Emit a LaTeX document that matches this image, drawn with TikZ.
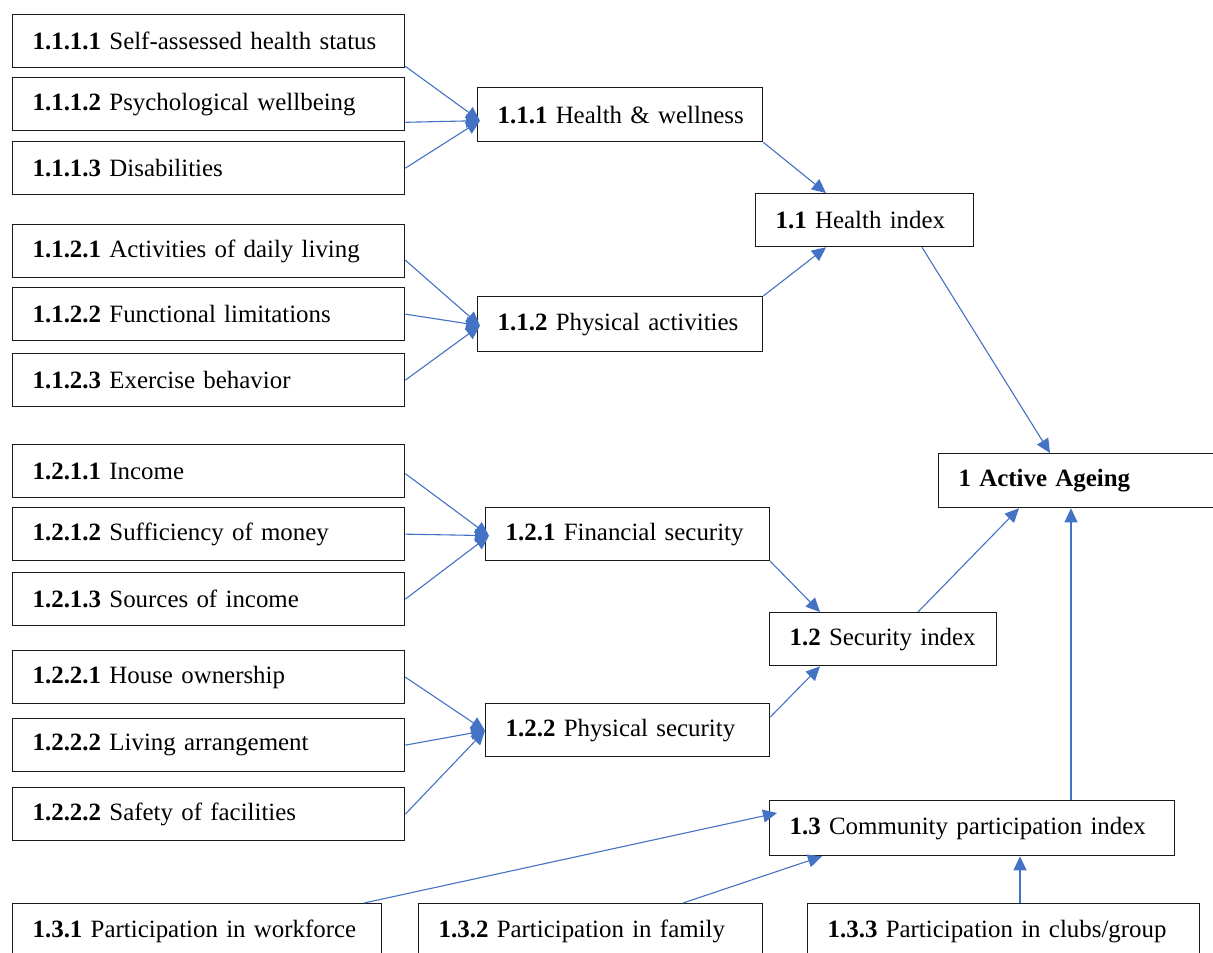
\documentclass[tikz,border=0pt]{standalone}
\usepackage{fontspec}
\setmainfont{Liberation Serif}
\usetikzlibrary{arrows.meta,calc}
\definecolor{arrowblue}{HTML}{4472C4}
\definecolor{boxline}{HTML}{1A1A1A}
\tikzset{
  box/.style={draw=boxline, line width=1.3pt, anchor=north west, inner xsep=20pt, inner ysep=0pt,
    align=left, minimum height=53pt, font=\fontsize{24.9}{30}\selectfont},
  arr/.style={draw=arrowblue, line width=1.1pt, -{Triangle[length=14pt,width=13pt]}},
}
\begin{document}
\begin{tikzpicture}[x=1pt,y=-1pt]
\clip (0,0) rectangle (1213,953);
\fill[white] (0,0) rectangle (1213,953);
% left column
\node[box,text width=352pt] (a1111) at (12,14)  {\mbox{\textbf{1.1.1.1} Self-assessed health status}};
\node[box,text width=352pt] (a1112) at (12,77)  {\mbox{\textbf{1.1.1.2} Psychological wellbeing}};
\node[box,text width=352pt] (a1113) at (12,141) {\mbox{\textbf{1.1.1.3} Disabilities}};
\node[box,text width=352pt] (a1121) at (12,224) {\mbox{\textbf{1.1.2.1} Activities of daily living}};
\node[box,text width=352pt] (a1122) at (12,287) {\mbox{\textbf{1.1.2.2} Functional limitations}};
\node[box,text width=352pt] (a1123) at (12,353) {\mbox{\textbf{1.1.2.3} Exercise behavior}};
\node[box,text width=352pt] (a1211) at (12,444) {\mbox{\textbf{1.2.1.1} Income}};
\node[box,text width=352pt] (a1212) at (12,507) {\mbox{\textbf{1.2.1.2} Sufficiency of money}};
\node[box,text width=352pt] (a1213) at (12,572) {\mbox{\textbf{1.2.1.3} Sources of income}};
\node[box,text width=352pt] (a1221) at (12,650) {\mbox{\textbf{1.2.2.1} House ownership}};
\node[box,text width=352pt] (a1222) at (12,718) {\mbox{\textbf{1.2.2.2} Living arrangement}};
\node[box,text width=352pt] (a1223) at (12,787) {\mbox{\textbf{1.2.2.2} Safety of facilities}};
% middle column
\node[box,text width=245pt,minimum height=54pt] (n111) at (477,87)  {\mbox{\textbf{1.1.1} Health \& wellness}};
\node[box,text width=245pt,minimum height=55pt] (n112) at (477,296) {\mbox{\textbf{1.1.2} Physical activities}};
\node[box,text width=244pt] (n121) at (485,507) {\mbox{\textbf{1.2.1} Financial security}};
\node[box,text width=244pt] (n122) at (485,703) {\mbox{\textbf{1.2.2} Physical security}};
% indices
\node[box,text width=178pt] (n11) at (755,193) {\mbox{\textbf{1.1} Health index}};
\node[box,text width=187pt] (n12) at (769,612) {\mbox{\textbf{1.2} Security index}};
\node[box,text width=365pt,minimum height=55pt] (n13) at (769,800) {\mbox{\textbf{1.3} Community participation index}};
\node[box,text width=250pt,minimum height=54pt] (n1) at (938,453) {\mbox{\textbf{1 Active Ageing}}};
% bottom row
\node[box,text width=329pt,minimum height=56pt] (b131) at (12,903)  {\mbox{\textbf{1.3.1} Participation in workforce}};
\node[box,text width=304pt,minimum height=56pt] (b132) at (418,903) {\mbox{\textbf{1.3.2} Participation in family}};
\node[box,text width=352pt,minimum height=56pt] (b133) at (807,903) {\mbox{\textbf{1.3.3} Participation in clubs/group}};
% group 1.1.1
\coordinate (t111) at ($(n111.west)+(3,6)$);
\draw[arr] ($(a1111.south east)+(0,-2)$) -- (t111);
\draw[arr] ($(a1112.south east)+(0,-9)$) -- (t111);
\draw[arr] (a1113.east) -- (t111);
% group 1.1.2
\coordinate (t112) at ($(n112.west)+(3,1.5)$);
\draw[arr] ($(a1121.east)+(0,9)$) -- (t112);
\draw[arr] (a1122.east) -- (t112);
\draw[arr] (a1123.east) -- (t112);
% group 1.2.1
\coordinate (t121) at ($(n121.west)+(4,1.5)$);
\draw[arr] ($(a1211.east)+(0,2.5)$) -- (t121);
\draw[arr] (a1212.east) -- (t121);
\draw[arr] (a1213.east) -- (t121);
% group 1.2.2
\coordinate (t122) at ($(n122.west)+(0,0.5)$);
\draw[arr] (a1221.east) -- (t122);
\draw[arr] (a1222.east) -- (t122);
\draw[arr] (a1223.east) -- (t122);
% to indices
\draw[arr] (n111.south east) -- ($(n11.north west)+(71,0)$);
\draw[arr] (n112.north east) -- ($(n11.south west)+(71,0)$);
\draw[arr] (n121.south east) -- ($(n12.north west)+(51,0)$);
\draw[arr] ($(n122.north east)+(0,14)$) -- ($(n12.south west)+(51,0)$);
% to active ageing
\draw[arr] ($(n11.south west)+(167,0)$) -- ($(n1.north west)+(112,0)$);
\draw[arr] ($(n12.north west)+(149,0)$) -- ($(n1.south west)+(81,0)$);
\draw[arr] ($(n13.north west)+(302,0)$) -- ($(n1.south west)+(133,0)$);
% community
\draw[arr] ($(b131.north west)+(352,0)$) -- ($(n13.north west)+(8,13)$);
\draw[arr] ($(b132.north west)+(265,0)$) -- ($(n13.south west)+(53,0)$);
\draw[arr] ($(b133.north west)+(213,0)$) -- ($(n13.south west)+(251,0)$);
\end{tikzpicture}
\end{document}
